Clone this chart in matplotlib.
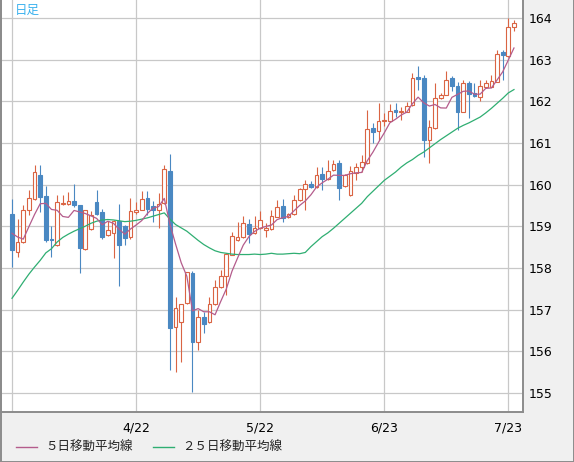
import numpy as np
import matplotlib
matplotlib.use("Agg")
import matplotlib.pyplot as plt
from matplotlib.patches import Rectangle
from matplotlib.lines import Line2D

# daily candles (index 0 = 3/22)
opens = [159.30, 158.38, 158.62, 159.38, 159.66, 160.23, 159.73, 158.70, 158.55, 159.54,
         159.54, 159.60, 159.50, 158.46, 158.94, 159.58, 159.33, 158.78, 158.84, 159.12,
         159.00, 158.73, 159.34, 159.40, 159.68, 159.49, 159.38, 159.56, 160.33, 156.58,
         156.69, 157.15, 157.88, 156.22, 156.82, 156.70, 157.14, 157.54, 157.81, 158.32,
         158.66, 158.74, 159.06, 158.84, 158.96, 158.91, 158.93, 159.23, 159.49, 159.22,
         159.30, 159.63, 159.89, 160.01, 159.94, 160.26, 160.13, 160.34, 160.52, 159.96,
         159.75, 160.28, 160.43, 160.51, 161.35, 161.28, 161.52, 161.53, 161.79, 161.75,
         161.75, 161.91, 162.57, 162.55, 161.07, 161.35, 162.07, 162.16, 162.55, 162.37,
         161.75, 162.44, 162.19, 162.10, 162.33, 162.35, 162.47, 163.18, 163.08, 163.78]
highs = [159.66, 159.18, 159.51, 159.86, 160.47, 160.47, 159.97, 159.01, 159.75, 159.76,
         159.82, 160.02, 159.52, 159.40, 159.36, 159.86, 159.42, 159.12, 159.16, 159.54,
         159.02, 159.68, 159.58, 159.84, 159.84, 159.61, 159.80, 160.48, 160.74, 157.31,
         157.14, 157.91, 157.92, 156.99, 156.95, 157.31, 157.70, 157.94, 158.36, 158.85,
         159.09, 159.25, 159.18, 159.25, 159.36, 159.07, 159.39, 159.62, 159.65, 159.32,
         159.75, 159.91, 160.10, 160.08, 160.42, 160.42, 160.60, 160.60, 160.60, 160.26,
         160.44, 160.52, 160.72, 161.80, 161.48, 161.95, 161.72, 161.93, 161.95, 161.87,
         161.98, 162.67, 162.85, 162.63, 161.55, 162.43, 162.19, 162.73, 162.61, 162.45,
         162.50, 162.49, 162.43, 162.52, 162.51, 162.62, 163.22, 163.22, 164.00, 163.95]
lows = [158.01, 158.27, 158.60, 159.27, 159.64, 159.34, 158.62, 158.27, 158.53, 159.50,
        159.52, 159.46, 157.88, 158.44, 158.90, 159.26, 158.70, 158.76, 158.24, 157.57,
        158.54, 158.70, 159.30, 159.38, 159.28, 159.09, 158.96, 159.54, 155.55, 155.49,
        155.75, 157.13, 155.03, 156.02, 156.43, 156.68, 157.12, 157.52, 157.35, 158.30,
        158.64, 158.72, 158.60, 158.82, 158.94, 158.75, 158.91, 159.21, 159.11, 159.20,
        159.28, 159.61, 159.38, 159.92, 159.92, 159.86, 160.11, 160.32, 159.63, 159.94,
        159.73, 160.10, 160.30, 160.49, 160.99, 161.08, 161.40, 161.51, 161.63, 161.55,
        161.73, 161.89, 162.28, 160.66, 160.51, 161.33, 162.05, 162.14, 162.24, 161.32,
        161.73, 161.60, 162.10, 162.00, 162.31, 162.33, 162.45, 162.50, 163.06, 163.68]
closes = [158.42, 158.63, 159.39, 159.67, 160.30, 159.71, 158.67, 158.66, 159.57, 159.56,
          159.60, 159.50, 158.48, 159.38, 159.28, 159.30, 158.74, 158.90, 159.12, 158.56,
          158.72, 159.36, 159.38, 159.65, 159.41, 159.38, 159.53, 160.37, 156.55, 157.03,
          157.14, 157.90, 156.22, 156.82, 156.65, 157.14, 157.54, 157.81, 158.33, 158.77,
          158.74, 159.08, 158.82, 158.96, 159.16, 158.95, 159.25, 159.47, 159.20, 159.30,
          159.63, 159.89, 160.01, 159.94, 160.24, 160.13, 160.32, 160.50, 159.91, 160.24,
          160.33, 160.43, 160.54, 161.33, 161.27, 161.52, 161.54, 161.76, 161.75, 161.77,
          161.88, 162.55, 162.54, 161.07, 161.38, 162.07, 162.14, 162.52, 162.36, 161.73,
          162.44, 162.18, 162.13, 162.37, 162.43, 162.48, 163.14, 163.11, 163.79, 163.87]

# 5-day MA for the first four days (earlier closes are off the chart)
ma5_head = [158.83, 158.74, 158.69, 158.99]

# 25-day MA
ma25 = [157.27, 157.46, 157.66, 157.85, 158.02, 158.18, 158.36, 158.46, 158.62, 158.73,
        158.81, 158.88, 158.94, 159.00, 159.07, 159.12, 159.15, 159.16, 159.15, 159.13,
        159.11, 159.12, 159.14, 159.17, 159.20, 159.24, 159.28, 159.32, 159.17, 159.04,
        158.96, 158.88, 158.77, 158.66, 158.56, 158.48, 158.41, 158.37, 158.35, 158.33,
        158.32, 158.32, 158.32, 158.33, 158.32, 158.33, 158.35, 158.33, 158.33, 158.34,
        158.35, 158.34, 158.37, 158.51, 158.63, 158.75, 158.84, 158.95, 159.07, 159.19,
        159.31, 159.43, 159.55, 159.71, 159.84, 159.97, 160.10, 160.20, 160.30, 160.42,
        160.52, 160.60, 160.70, 160.78, 160.88, 160.98, 161.08, 161.17, 161.26, 161.35,
        161.42, 161.48, 161.55, 161.62, 161.72, 161.83, 161.95, 162.07, 162.20, 162.28]

tick_pos = [0, 22, 44, 66, 88]
tick_labels = ["", "4/22", "5/22", "6/23", "7/23"]
price_ticks = [155, 156, 157, 158, 159, 160, 161, 162, 163, 164]

# 5-day MA from the closes
c = np.array(closes)
ma5 = np.concatenate([ma5_head, np.convolve(c, np.ones(5) / 5, mode="valid")])

UP = "#da6443"
DOWN = "#4a88c2"
C_MA5 = "#b45c8c"
C_MA25 = "#2fae72"
FRAME = "#8c8c8c"

fig = plt.figure(figsize=(5.74, 4.62), dpi=100, facecolor="#f0f0f0")
ax = fig.add_axes([1 / 574, 50 / 462, 522 / 574, 412 / 462])
ax.set_facecolor("white")

x = np.arange(len(closes))
w = 0.66
for i in x:
    o, h, l, cl = opens[i], highs[i], lows[i], closes[i]
    col = UP if cl >= o else DOWN
    ax.vlines(i, l, h, color=col, linewidth=0.8, zorder=2)
    face = "white" if cl >= o else DOWN
    ax.add_patch(Rectangle((i - w / 2, min(o, cl)), w, max(abs(cl - o), 0.015),
                           facecolor=face, edgecolor=col, linewidth=0.8, zorder=3))

ax.plot(x, ma25, color=C_MA25, linewidth=0.9, zorder=4)
ax.plot(x, ma5, color=C_MA5, linewidth=0.9, zorder=4)

ax.set_xlim(-1.95, 90.6)
ax.set_ylim(154.54, 164.43)
ax.set_xticks(tick_pos)
ax.set_xticklabels(tick_labels)
ax.set_yticks(price_ticks)
ax.grid(True, color="#c8c8c8", linewidth=0.9, zorder=0)
ax.set_axisbelow(True)
ax.tick_params(axis="both", length=0, labelsize=9, colors="black")
ax.tick_params(axis="y", labelleft=False, labelright=True, pad=4)
ax.tick_params(axis="x", pad=7)
ax.spines["top"].set_visible(False)
for s in ["left", "bottom", "right"]:
    ax.spines[s].set_color(FRAME)
    ax.spines[s].set_linewidth(1.4)

ax.text(14 / 522, 1 - 10 / 412, "日足", transform=ax.transAxes, fontsize=9,
        color="#3cb2ee", va="center", ha="left", family=["Noto Sans CJK JP", "DejaVu Sans"])

# legend drawn along the bottom
ly = 1 - 447 / 462
fig.add_artist(Line2D([16 / 574, 37 / 574], [ly, ly], color=C_MA5, linewidth=1.0))
fig.text(45 / 574, ly, "５日移動平均線", fontsize=9, va="center", ha="left",
         color="#222222", family=["Noto Sans CJK JP", "DejaVu Sans"])
fig.add_artist(Line2D([153 / 574, 174 / 574], [ly, ly], color=C_MA25, linewidth=1.0))
fig.text(182 / 574, ly, "２５日移動平均線", fontsize=9, va="center", ha="left",
         color="#222222", family=["Noto Sans CJK JP", "DejaVu Sans"])

# outer frame (left, right, bottom)
fig.add_artist(Line2D([0.5 / 574, 0.5 / 574], [0, 1], color=FRAME, linewidth=1.4))
fig.add_artist(Line2D([573.5 / 574, 573.5 / 574], [0, 1], color=FRAME, linewidth=1.4))
fig.add_artist(Line2D([0, 1], [0.5 / 462, 0.5 / 462], color=FRAME, linewidth=1.4))

fig.savefig("out.png", dpi=100, facecolor=fig.get_facecolor())
